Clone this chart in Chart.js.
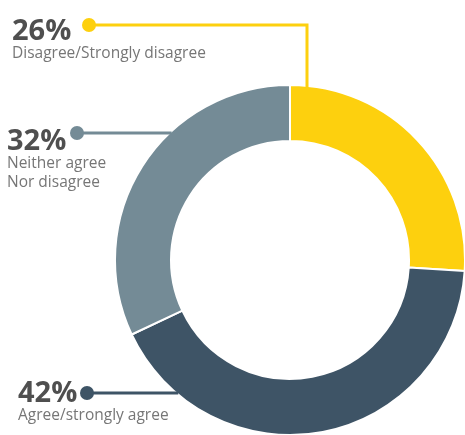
<!DOCTYPE html>
<html>
<head>
<meta charset="utf-8">
<script src="https://cdn.jsdelivr.net/npm/chart.js@4"></script>
<style>
  html, body { margin: 0; padding: 0; background: #fff; overflow: hidden; }
  canvas { display: block; }
</style>
</head>
<body>
<canvas id="donut" width="466" height="436"></canvas>
<script>
const categories = ['Disagree/Strongly disagree', 'Agree/strongly agree', 'Neither agree\nNor disagree'];
const shares = [26, 42, 32];
const colores = ['#FDD00E', '#3E5466', '#748B96'];

// where each callout sits: dot, text, and how the leader reaches the ring
const callouts = [
    { dotX: 89, dotY: 25, textX: 12, pctY: 40, elbowX: 307 },   // goes right, then down
    { dotX: 87, dotY: 393, textX: 18, pctY: 402 },
    { dotX: 77, dotY: 133, textX: 7, pctY: 150 }
];

const calloutPlugin = {
    id: 'callouts',
    afterDraw(chart) {
        const ctx = chart.ctx;
        const meta = chart.getDatasetMeta(0);
        meta.data.forEach((arc, i) => {
            const c = callouts[i];
            const col = colores[i];
            const R = arc.outerRadius;
            ctx.save();
            ctx.strokeStyle = col;
            ctx.lineWidth = 3;
            ctx.beginPath();
            ctx.moveTo(c.dotX, c.dotY);
            if (c.elbowX) {
                const endY = arc.y - Math.sqrt(R * R - Math.pow(c.elbowX - arc.x, 2));
                ctx.lineTo(c.elbowX, c.dotY);
                ctx.lineTo(c.elbowX, endY + 2);
            } else {
                const endX = arc.x - Math.sqrt(R * R - Math.pow(c.dotY - arc.y, 2));
                ctx.lineTo(endX + 2, c.dotY);
            }
            ctx.stroke();

            ctx.fillStyle = col;
            ctx.beginPath();
            ctx.arc(c.dotX, c.dotY, 7, 0, Math.PI * 2);
            ctx.fill();

            // percentage
            ctx.fillStyle = '#4f4f4f';
            ctx.font = 'bold 29px "Open Sans"';
            ctx.textBaseline = 'alphabetic';
            ctx.fillText(shares[i] + '%', c.textX, c.pctY);

            // category name, may span two lines
            ctx.fillStyle = '#767676';
            ctx.font = '15.5px "Open Sans"';
            categories[i].split('\n').forEach((line, k) => {
                ctx.fillText(line, c.textX, c.pctY + 18 + k * 19);
            });
            ctx.restore();
        });
    }
};

new Chart(document.getElementById('donut'), {
    type: 'doughnut',
    plugins: [calloutPlugin],
    data: {
        labels: categories,
        datasets: [{
            data: shares,
            backgroundColor: colores,
            borderColor: '#ffffff',
            borderWidth: 2
        }]
    },
    options: {
        responsive: false,
        animation: false,
        cutout: '68%',
        layout: { padding: { left: 114, top: 84, right: 0, bottom: 0 } },
        plugins: {
            legend: { display: false },
            tooltip: { enabled: false }
        }
    }
});
</script>
</body>
</html>
